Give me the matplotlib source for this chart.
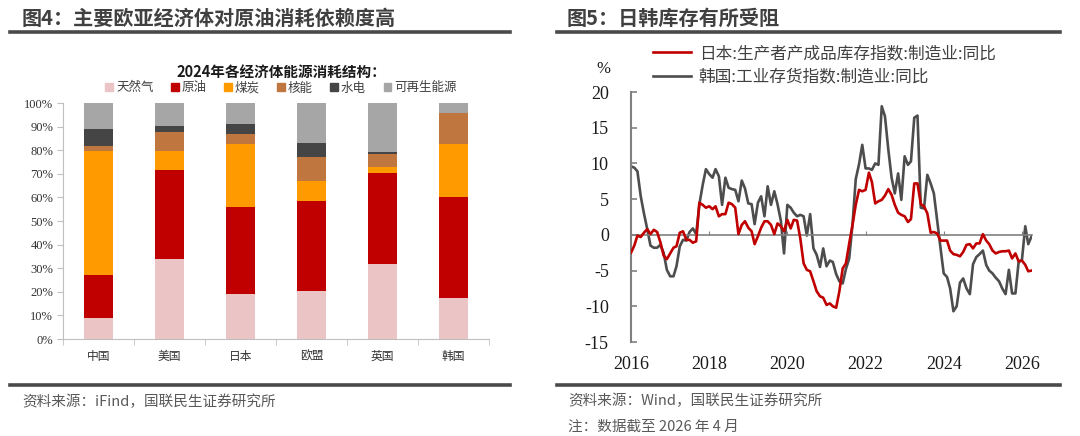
import numpy as np
import pandas as pd
import matplotlib
matplotlib.use("Agg")
import matplotlib.pyplot as plt
import matplotlib.dates as mdates
from matplotlib.lines import Line2D
from matplotlib.patches import Patch

plt.rcParams['font.family'] = ['Noto Sans CJK SC', 'DejaVu Sans']

# ---- left chart: 2024 energy mix (%)
countries = ['中国', '美国', '日本', '欧盟', '英国', '韩国']
fuels = ['天然气', '原油', '煤炭', '核能', '水电', '可再生能源']
gas = [9.0, 34.0, 19.0, 20.2, 31.9, 17.5]
oil = [18.1, 37.6, 37.1, 38.4, 38.6, 42.5]
coal = [52.6, 8.2, 26.5, 8.5, 2.2, 22.5]
nuclear = [2.1, 7.9, 4.4, 9.9, 5.5, 13.1]
hydro = [7.2, 2.7, 4.1, 6.2, 0.9, 0.3]
renewables = [11.0, 9.6, 8.9, 16.8, 20.9, 4.1]
fuel_colors = ['#EBC5C5', '#C00000', '#FF9A00', '#C0763F', '#454545', '#A6A6A6']

# ---- right chart: inventory yoy (%), monthly from 2016-01
months = pd.date_range('2016-01-01', periods=124, freq='MS')
japan = [-2.5, -1.5, -0.1, -0.3, 0.3, 0.8, 0.1, 0.7, 0.4, -1.0,
         -2.9, -3.4, -2.6, -1.8, -1.6, 0.3, 0.5, -0.7, -0.7, -1.1,
         -0.9, 4.5, 4.2, 3.8, 4.0, 3.6, 4.0, 2.6, 2.9, 2.9,
         4.5, 4.3, 3.8, 0.1, 1.4, 1.9, 1.0, 0.5, -1.3, -0.2,
         1.0, 1.9, 1.9, 1.4, 0.1, 1.6, 1.2, 0.5, 2.1, 0.9,
         2.1, 2.0, -0.5, -4.0, -4.9, -5.1, -6.5, -7.9, -8.6, -8.8,
         -9.8, -9.6, -10.0, -10.2, -7.9, -4.7, -4.0, -1.2, 1.4, 4.2,
         6.3, 6.1, 6.3, 8.7, 7.4, 4.4, 4.7, 4.9, 5.5, 6.4,
         5.6, 4.2, 3.1, 2.8, 2.6, 1.8, 2.2, 7.2, 7.2, 4.3,
         4.0, 3.0, 0.3, 0.4, 0.2, -0.8, -0.8, -0.8, -2.2, -2.7,
         -2.8, -3.0, -2.4, -1.4, -1.3, -1.9, -1.2, -1.2, 0.1, -0.8,
         -1.3, -2.2, -2.6, -2.4, -2.3, -2.3, -2.2, -3.3, -2.6, -3.7,
         -3.6, -4.2, -5.1, -5.0]
korea = [9.6, 9.4, 8.9, 5.4, 3.0, 0.8, -1.5, -1.8, -1.8, -1.4,
         -2.5, -4.9, -5.8, -5.8, -4.4, -1.6, -0.7, -0.8, 0.4, 0.9,
         0.1, 4.3, 7.0, 9.2, 8.5, 8.0, 9.2, 8.2, 4.2, 8.0,
         6.6, 6.4, 6.3, 4.7, 7.6, 6.5, 4.4, 4.3, 1.5, 4.5,
         5.4, 2.6, 6.8, 4.2, 6.1, 4.3, 2.0, -2.6, 4.2, 3.8,
         3.1, 2.6, 2.8, 2.6, -0.1, 2.9, -1.9, -2.8, -4.5, -1.9,
         -4.4, -3.6, -3.8, -5.5, -6.5, -6.8, -4.8, -3.3, 1.5, 7.8,
         9.9, 12.6, 9.3, 9.3, 9.1, 10.0, 9.8, 18.0, 16.6, 12.0,
         8.0, 5.8, 8.6, 4.9, 11.0, 9.8, 10.3, 16.4, 16.7, 3.8,
         3.7, 8.4, 7.2, 5.8, 2.0, -1.7, -5.4, -5.9, -7.5, -10.7,
         -10.0, -6.7, -6.1, -7.5, -8.3, -4.1, -3.1, -2.7, -2.2, -4.2,
         -5.0, -5.4, -6.0, -6.5, -7.5, -8.3, -4.9, -8.2, -8.2, -3.8,
         -3.5, 1.2, -1.3, -0.2]
years = [2016, 2018, 2020, 2022, 2024, 2026]

W, H = 1080, 436
fig = plt.figure(figsize=(W / 100, H / 100), dpi=100)


def fx(px):
    return px / W


def fy(py):
    return 1 - py / H


# headers, rules and sources
fig.text(fx(22), fy(18), '图4：主要欧亚经济体对原油消耗依赖度高', fontsize=14.5,
         weight='bold', color='#404040', va='center')
fig.text(fx(567), fy(18), '图5：日韩库存有所受阻', fontsize=14.5,
         weight='bold', color='#404040', va='center')
for x0, x1 in [(10, 510), (557, 1060)]:
    for yy in (32, 385):
        fig.add_artist(Line2D([fx(x0), fx(x1)], [fy(yy), fy(yy)],
                              color='#4a4a4a', lw=2.6))
fig.text(fx(22), fy(402), '资料来源：iFind，国联民生证券研究所', fontsize=10.5,
         color='#595959', va='center')
fig.text(fx(568), fy(401), '资料来源：Wind，国联民生证券研究所', fontsize=10.5,
         color='#595959', va='center')
fig.text(fx(568), fy(427), '注：数据截至 2026 年 4 月', fontsize=10.5,
         color='#595959', va='center')

# ---- left: stacked bars
ax = fig.add_axes([fx(63), fy(339), fx(489 - 63), (339 - 103) / H])
series = [gas, oil, coal, nuclear, hydro, renewables]
xpos = np.arange(len(countries))
bottom = np.zeros(len(countries))
for vals, col in zip(series, fuel_colors):
    ax.bar(xpos, vals, 0.4, bottom=bottom, color=col, zorder=2)
    bottom += np.array(vals)
ax.set_xlim(-0.5, len(countries) - 0.5)
ax.set_ylim(0, 100)
ax.set_yticks(range(0, 101, 10))
ax.set_yticklabels([f'{v}%' for v in range(0, 101, 10)],
                   family='Liberation Serif', fontsize=9, color='#333333')
ax.set_xticks(xpos)
ax.set_xticklabels(countries, fontsize=8.5, color='#333333')
ax.set_xticks(np.arange(-0.5, len(countries), 1), minor=True)
ax.tick_params(axis='x', which='major', length=0, pad=8)
ax.tick_params(axis='x', which='minor', length=4, color='#bfbfbf')
ax.tick_params(axis='y', length=4, color='#bfbfbf', pad=3)
for s in ('top', 'right'):
    ax.spines[s].set_visible(False)
for s in ('left', 'bottom'):
    ax.spines[s].set_color('#bfbfbf')
fig.text(fx(281), fy(72), '2024年各经济体能源消耗结构：', fontsize=10.5,
         weight='bold', color='#1a1a1a', ha='center', va='center')
handles = [Patch(color=c) for c in fuel_colors]
leg = ax.legend(handles, fuels, ncol=6, loc='center',
                bbox_to_anchor=(fx(281), fy(88)), bbox_transform=fig.transFigure,
                frameon=False, fontsize=9, handlelength=0.6, handleheight=0.6,
                handletextpad=0.25, columnspacing=1.4, borderpad=0)
for t in leg.get_texts():
    t.set_color('#404040')

# ---- right: lines
ax2 = fig.add_axes([fx(631), fy(342), fx(1032 - 631), (342 - 92) / H])
ax2.plot(months, korea, color='#4d4d4d', lw=1.9, zorder=2,
         label='韩国:工业存货指数:制造业:同比')
ax2.plot(months, japan, color='#C00000', lw=1.9, zorder=3,
         label='日本:生产者产成品库存指数:制造业:同比')
ax2.set_ylim(-15, 20)
ax2.set_xlim(months[0], months[-1] + pd.Timedelta(days=4))
ax2.set_yticks(range(-15, 21, 5))
ax2.set_yticklabels([str(v) for v in range(-15, 21, 5)],
                    family='Liberation Serif', fontsize=13, color='#1a1a1a')
ax2.tick_params(axis='y', direction='in', length=4, width=1.2,
                color='#808080', pad=16)
for s in ('top', 'right'):
    ax2.spines[s].set_visible(False)
ax2.spines['left'].set_color('#808080')
ax2.spines['left'].set_linewidth(1.5)
ax2.spines['bottom'].set_position(('data', 0))
ax2.spines['bottom'].set_color('#808080')
ax2.spines['bottom'].set_linewidth(1.2)
tick_dates = [mdates.date2num(pd.Timestamp(f'{y}-01-01')) for y in years]
ax2.set_xticks(tick_dates)
ax2.tick_params(axis='x', direction='in', length=3, color='#808080',
                labelbottom=False)
sec = ax2.secondary_xaxis(0)
sec.set_xticks(tick_dates, [str(y) for y in years])
sec.tick_params(length=0, pad=10, labelsize=13)
for lab in sec.get_xticklabels():
    lab.set_family('Liberation Serif')
    lab.set_color('#1a1a1a')
sec.spines['bottom'].set_visible(False)
h, l = ax2.get_legend_handles_labels()
leg2 = ax2.legend(h[::-1], l[::-1], loc='upper left',
                  bbox_to_anchor=(fx(653), fy(45)), bbox_transform=fig.transFigure,
                  frameon=False, fontsize=12, handlelength=2.3,
                  handletextpad=0.45, labelspacing=0.4, borderpad=0,
                  borderaxespad=0)
for t in leg2.get_texts():
    t.set_color('#404040')
fig.text(fx(603), fy(69), '%', family='Liberation Serif', fontsize=12,
         color='#1a1a1a', ha='center', va='center')

fig.savefig('out.png', dpi=100)
